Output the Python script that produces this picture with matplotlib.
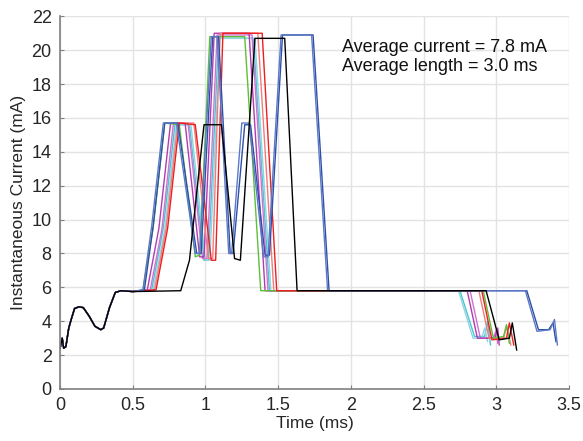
import matplotlib
matplotlib.use("Agg")
import matplotlib.pyplot as plt

plt.rcParams['font.family'] = ['Liberation Sans', 'DejaVu Sans']

# start of every trace (shared wake-up part)
head_t = [0.0, 0.015, 0.025, 0.04, 0.06, 0.08, 0.10, 0.13, 0.16, 0.20, 0.24, 0.28, 0.30, 0.34, 0.38, 0.42, 0.50]
head_i = [2.4, 3.0, 2.4, 2.5, 3.6, 4.2, 4.75, 4.85, 4.8, 4.3, 3.7, 3.5, 3.6, 4.8, 5.7, 5.8, 5.75]

# per-trace key points after 0.5 ms
green_t = [0.57, 0.64, 0.72, 0.82, 0.93, 0.96, 1.03, 1.27, 1.38, 2.91, 2.98, 3.05, 3.07, 3.09]
green_i = [5.85, 9.5, 15.7, 15.6, 7.8, 7.9, 20.8, 20.8, 5.8, 5.8, 3.0, 3.1, 3.8, 2.7]

magenta_t = [0.60, 0.68, 0.76, 0.86, 0.96, 0.99, 1.06, 1.30, 1.41, 2.80, 2.87, 2.99, 3.01, 3.02]
magenta_i = [5.85, 9.5, 15.7, 15.7, 7.8, 7.8, 21.0, 21.0, 5.8, 5.8, 3.0, 3.0, 3.6, 2.6]

lmagenta_t = [0.62, 0.70, 0.78, 0.88, 0.98, 1.01, 1.08, 1.32, 1.43, 2.82, 2.89, 2.98, 3.00, 3.01]
lmagenta_i = [5.85, 9.4, 15.7, 15.7, 7.7, 7.7, 20.9, 20.9, 5.8, 5.8, 3.0, 3.0, 3.5, 2.7]

cyan_t = [0.63, 0.71, 0.79, 0.89, 0.99, 1.02, 1.09, 1.33, 1.44, 2.75, 2.85, 2.92, 2.94, 2.96]
cyan_i = [5.85, 9.5, 15.6, 15.6, 7.6, 7.6, 20.7, 20.7, 5.8, 5.8, 3.1, 3.1, 4.0, 2.6]

lcyan_t = [0.64, 0.72, 0.80, 0.90, 1.00, 1.03, 1.10, 1.34, 1.45, 2.74, 2.84, 2.90, 2.92, 2.94]
lcyan_i = [5.85, 9.4, 15.6, 15.6, 7.6, 7.6, 20.7, 20.7, 5.8, 5.8, 3.0, 3.0, 3.6, 2.8]

salmon_t = [0.65, 0.73, 0.81, 0.92, 1.02, 1.05, 1.10, 1.36, 1.47, 2.88, 2.95, 3.05, 3.07, 3.10]
salmon_i = [5.85, 9.5, 15.7, 15.7, 7.7, 7.7, 21.0, 21.0, 5.8, 5.8, 3.0, 3.0, 3.7, 2.6]

red_t = [0.66, 0.74, 0.82, 0.93, 1.04, 1.07, 1.12, 1.39, 1.49, 2.90, 2.97, 3.07, 3.09, 3.12]
red_i = [5.85, 9.5, 15.7, 15.6, 7.6, 7.6, 21.0, 21.0, 5.8, 5.8, 2.9, 3.0, 3.9, 2.6]

black_t = [0.83, 0.89, 0.99, 1.11, 1.20, 1.24, 1.34, 1.545, 1.63, 2.93, 3.02, 3.09, 3.11, 3.14]
black_i = [5.8, 7.6, 15.6, 15.6, 7.7, 7.6, 20.7, 20.7, 5.8, 5.8, 2.9, 3.0, 3.9, 2.3]

blue_t = [0.57, 0.63, 0.71, 0.80, 0.93, 0.96, 1.04, 1.08, 1.16, 1.18, 1.25, 1.30, 1.40, 1.43, 1.52, 1.73, 1.84,
          3.20, 3.28, 3.37, 3.40, 3.42]
blue_i = [5.85, 9.6, 15.7, 15.7, 8.0, 8.0, 20.8, 20.8, 8.0, 8.0, 15.7, 15.7, 7.8, 7.8, 20.9, 20.9, 5.8,
          5.8, 3.4, 3.5, 4.1, 2.6]

dblue_t = [0.58, 0.64, 0.72, 0.81, 0.94, 0.97, 1.05, 1.09, 1.17, 1.19, 1.27, 1.31, 1.41, 1.44, 1.53, 1.74, 1.85,
           3.21, 3.29, 3.36, 3.39, 3.41]
dblue_i = [5.85, 9.6, 15.7, 15.7, 8.0, 8.0, 20.8, 20.8, 8.0, 8.0, 15.6, 15.6, 7.9, 7.9, 20.9, 20.9, 5.8,
           5.8, 3.5, 3.5, 3.9, 2.8]

traces = [
    (cyan_t, cyan_i, '#4cc3d3'),
    (lcyan_t, lcyan_i, '#8fd6e0'),
    (lmagenta_t, lmagenta_i, '#cf72cf'),
    (magenta_t, magenta_i, '#b03cb0'),
    (salmon_t, salmon_i, '#f27c7c'),
    (green_t, green_i, '#5cbf3a'),
    (red_t, red_i, '#ec1e1e'),
    (dblue_t, dblue_i, '#2f4fa8'),
    (blue_t, blue_i, '#5b79c6'),
    (black_t, black_i, '#000000'),
]

fig, ax = plt.subplots(figsize=(5.83, 4.41), dpi=100)
fig.subplots_adjust(left=0.103, right=0.976, bottom=0.118, top=0.963)

for t, i, c in traces:
    ax.plot(head_t + t, head_i + i, color=c, lw=1.0)

ax.set_xlim(0, 3.5)
ax.set_ylim(0, 22)
ax.set_xticks([0, 0.5, 1, 1.5, 2, 2.5, 3, 3.5])
ax.set_xticklabels(['0', '0.5', '1', '1.5', '2', '2.5', '3', '3.5'])
ax.set_yticks(range(0, 23, 2))
ax.grid(True, color='#e3e3e3', lw=1.0)
ax.set_axisbelow(True)
for s in ['top', 'right']:
    ax.spines[s].set_visible(False)
for s in ['left', 'bottom']:
    ax.spines[s].set_color('#808080')
    ax.spines[s].set_linewidth(1.2)
ax.tick_params(direction='in', length=3, color='#808080', labelsize=13, labelcolor='#262626', pad=6)

ax.set_xlabel('Time (ms)', fontsize=12.5, color='#262626', labelpad=1)
ax.set_ylabel('Instantaneous Current (mA)', fontsize=12.5, color='#262626', labelpad=4)

ax.text(1.94, 19.6, 'Average current = 7.8 mA\nAverage length = 3.0 ms', fontsize=13,
        color='#111111', va='center', ha='left', linespacing=1.1)

plt.savefig('out.png', dpi=100)
